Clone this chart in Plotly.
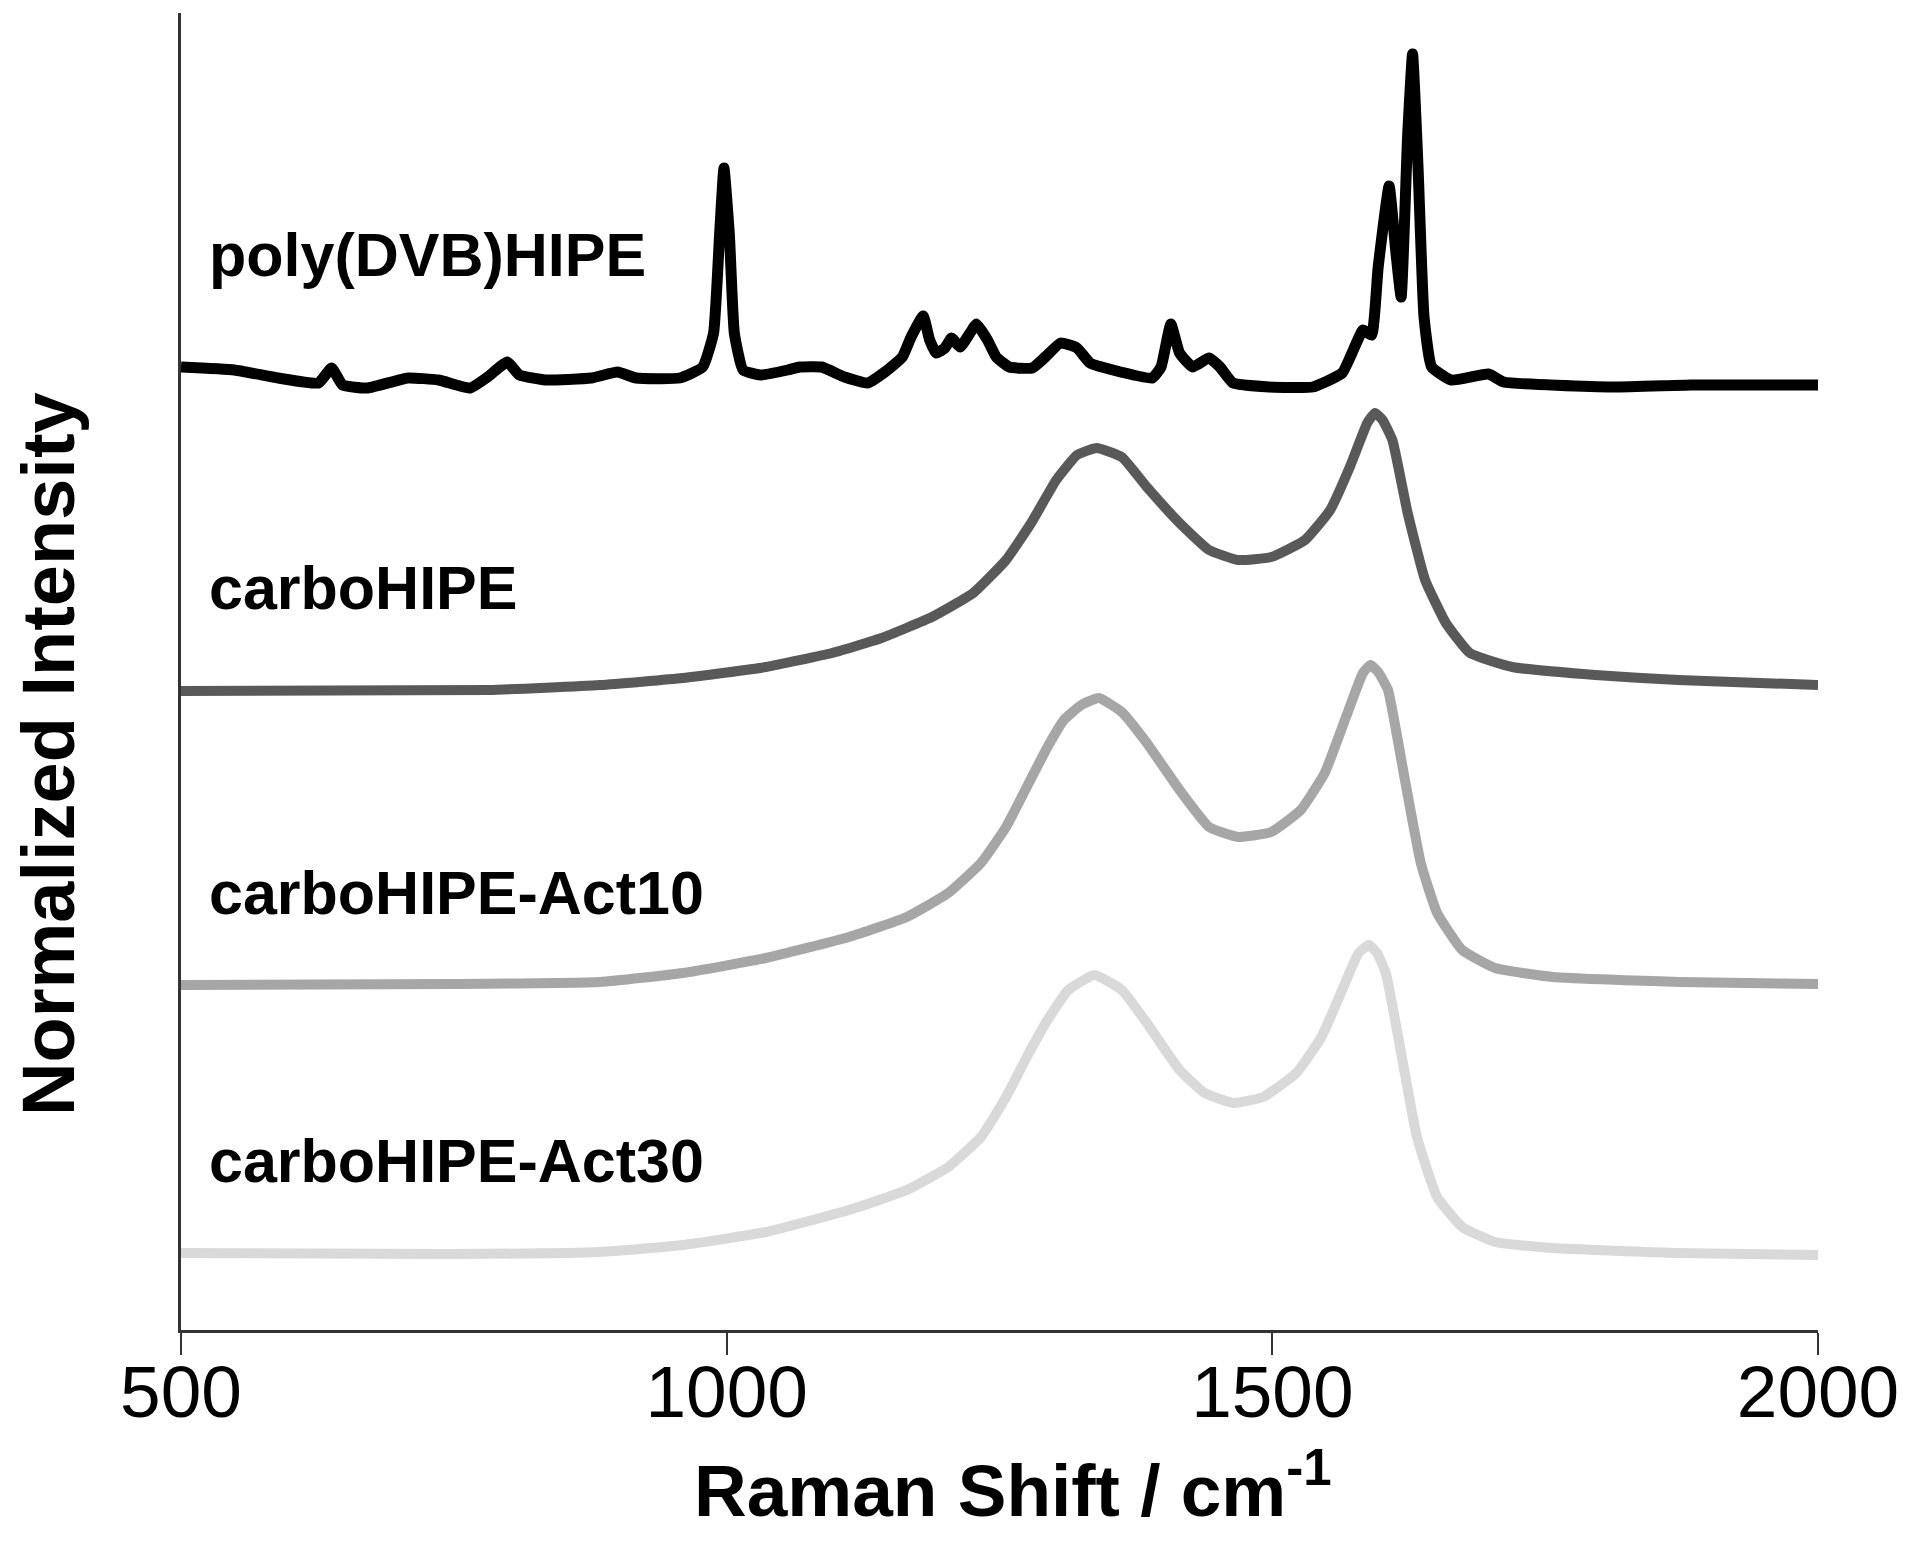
import plotly.graph_objects as go

# Raman spectra (stacked, arbitrary intensity units)
dvb_shift = [500, 549, 589, 626, 638, 648, 671, 708, 736, 765,
             781, 799, 810, 834, 876, 900, 917, 957, 978, 988,
             993.5, 997.5, 1002.5, 1007, 1015, 1031, 1056, 1067, 1087, 1108,
             1129, 1145, 1161, 1169, 1180, 1186, 1192, 1200, 1206, 1214,
             1223, 1229, 1239, 1247, 1259, 1280, 1292, 1306, 1321, 1333,
             1354, 1390, 1398, 1407, 1415, 1427, 1442, 1452, 1464, 1497,
             1537, 1564, 1577, 1583, 1591, 1597, 1607, 1613, 1618, 1624,
             1628.5, 1633.5, 1639, 1646, 1664, 1698, 1712, 1812, 1884, 2000]
dvb_int = [9.63, 9.60, 9.52, 9.47, 9.62, 9.45, 9.42, 9.52, 9.50, 9.42,
           9.53, 9.68, 9.55, 9.50, 9.52, 9.58, 9.52, 9.52, 9.63, 9.97,
           10.95, 11.62, 10.95, 9.97, 9.60, 9.55, 9.60, 9.63, 9.63, 9.53,
           9.47, 9.58, 9.73, 9.93, 10.14, 9.90, 9.77, 9.82, 9.92, 9.83,
           9.97, 10.06, 9.90, 9.73, 9.63, 9.62, 9.73, 9.87, 9.82, 9.67,
           9.60, 9.52, 9.63, 10.06, 9.77, 9.63, 9.72, 9.63, 9.47, 9.43,
           9.43, 9.57, 9.87, 10.00, 9.95, 10.63, 11.44, 10.80, 10.33, 11.95,
           12.76, 11.63, 10.13, 9.63, 9.50, 9.56, 9.48, 9.43, 9.45, 9.45]

carbo_shift = [500, 782, 884, 960, 1036, 1096.5, 1142, 1188, 1226, 1256,
               1279, 1302, 1321, 1339, 1362, 1385, 1415, 1442, 1468.5, 1499,
               1530, 1553, 1571, 1587, 1594, 1601, 1610, 1624, 1640, 1659,
               1681, 1720, 1796, 1872, 2000]
carbo_int = [6.39, 6.40, 6.45, 6.52, 6.63, 6.77, 6.92, 7.13, 7.37, 7.70,
             8.07, 8.50, 8.75, 8.82, 8.73, 8.43, 8.07, 7.80, 7.70, 7.73,
             7.90, 8.20, 8.63, 9.07, 9.17, 9.10, 8.90, 8.17, 7.50, 7.07,
             6.77, 6.63, 6.55, 6.50, 6.45]

act10_shift = [500, 746, 884, 960, 1036, 1112, 1165, 1203, 1233, 1256,
               1275, 1294, 1309, 1325, 1341, 1362, 1385, 1415, 1442, 1468.5,
               1499, 1526, 1548, 1567.5, 1583, 1590, 1597, 1606, 1621, 1636,
               1651, 1674, 1704, 1757, 1872, 2000]
act10_int = [3.45, 3.46, 3.48, 3.57, 3.72, 3.93, 4.13, 4.37, 4.67, 5.03,
             5.43, 5.83, 6.10, 6.25, 6.32, 6.18, 5.87, 5.40, 5.03, 4.93,
             4.98, 5.20, 5.57, 6.13, 6.57, 6.65, 6.58, 6.40, 5.53, 4.67,
             4.17, 3.80, 3.62, 3.53, 3.48, 3.46]

act30_shift = [500, 746, 884, 960, 1036, 1112, 1165, 1203, 1233, 1256,
               1275, 1294, 1313, 1337, 1362, 1385, 1415, 1438, 1465, 1491.5,
               1522, 1545, 1564, 1579, 1588.5, 1596, 1604, 1617, 1632.5, 1651,
               1674, 1704, 1757, 1872, 2000]
act30_int = [0.77, 0.76, 0.78, 0.85, 0.98, 1.20, 1.40, 1.63, 1.93, 2.33,
             2.73, 3.10, 3.40, 3.55, 3.40, 3.07, 2.60, 2.37, 2.27, 2.33,
             2.57, 2.93, 3.40, 3.77, 3.85, 3.77, 3.57, 2.83, 1.93, 1.33,
             1.03, 0.88, 0.82, 0.77, 0.75]

labels = ["poly(DVB)HIPE", "carboHIPE", "carboHIPE-Act10", "carboHIPE-Act30"]
label_y = [10.75, 7.42, 4.37, 1.69]
colors = ["#000000", "#595959", "#a6a6a6", "#d9d9d9"]
widths = [11, 10, 10, 10]

xticks = [500, 1000, 1500, 2000]

FONT = "Liberation Sans, Arial, sans-serif"

series = [(dvb_shift, dvb_int), (carbo_shift, carbo_int),
          (act10_shift, act10_int), (act30_shift, act30_int)]

fig = go.Figure()
# lightest first so the darker spectra sit on top
for i in reversed(range(len(series))):
    xs, ys = series[i]
    fig.add_trace(go.Scatter(
        x=xs, y=ys, mode="lines", name=labels[i],
        line=dict(color=colors[i], width=widths[i], shape="spline", smoothing=0.4),
        showlegend=False, hoverinfo="skip",
    ))

for i, txt in enumerate(labels):
    fig.add_annotation(
        x=524, y=label_y[i], xref="x", yref="y",
        text="<b>" + txt + "</b>", showarrow=False,
        xanchor="left", yanchor="middle",
        font=dict(family=FONT, size=61, color="black"),
    )

# axis titles
fig.add_annotation(
    x=0.5083, y=-0.118, xref="paper", yref="paper",
    text="<b>Raman Shift / cm<sup>-1</sup></b>", showarrow=False,
    xanchor="center", yanchor="middle",
    font=dict(family=FONT, size=73, color="black"),
)
fig.add_annotation(
    x=-0.0806, y=0.4374, xref="paper", yref="paper",
    text="<b>Normalized Intensity</b>", showarrow=False, textangle=-90,
    xanchor="center", yanchor="middle",
    font=dict(family=FONT, size=74, color="black"),
)

# page body adds 8px around the div, so the figure is a bit smaller
fig.update_layout(
    width=1906, height=1545,
    margin=dict(l=173, r=96, t=5, b=223),
    plot_bgcolor="white", paper_bgcolor="white",
    font=dict(family=FONT, color="black"),
)
fig.update_xaxes(
    range=[500, 2000], tickvals=xticks, ticktext=[str(v) for v in xticks],
    showgrid=False, zeroline=False,
    showline=True, linecolor="#333333", linewidth=3,
    ticks="outside", ticklen=22, tickwidth=2, tickcolor="#333333",
    ticklabelstandoff=-26,
    tickfont=dict(family=FONT, size=73, color="black"),
)
fig.update_yaxes(
    range=[0, 13.17], showticklabels=False, ticks="",
    showgrid=False, zeroline=False,
    showline=True, linecolor="#333333", linewidth=3,
)

fig.write_html("out.html")
